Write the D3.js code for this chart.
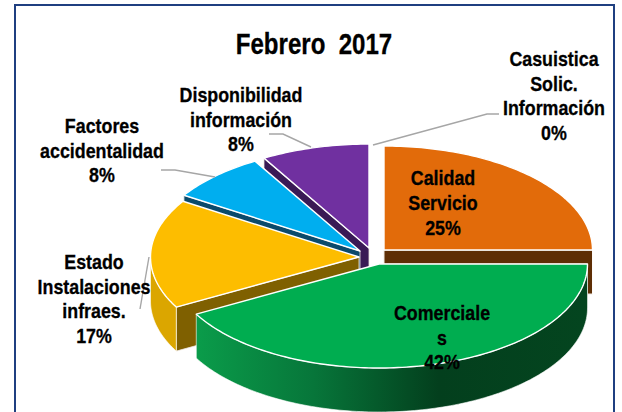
<!DOCTYPE html>
<html><head><meta charset="utf-8">
<script src="https://cdn.jsdelivr.net/npm/d3@7/dist/d3.min.js"></script>
<style>html,body{margin:0;padding:0;background:#fff;overflow:hidden}svg{display:block}</style>
</head><body><svg id="c" width="622" height="412"></svg>
<script>
// Data
const categories = ["Calidad Servicio","Comerciales","Estado Instalaciones infraes.","Factores accidentalidad","Disponibilidad información","Casuistica Solic. Información"];
const values = [25,42,17,7.6,8.4,0];
const title = "Febrero  2017";
const labelLines = [
  ["Calidad","Servicio","25%"],
  ["Comerciale","s","42%"],
  ["Estado","Instalaciones","infraes.","17%"],
  ["Factores","accidentalidad","8%"],
  ["Disponibilidad","información","8%"],
  ["Casuistica","Solic.","Información","0%"]
];
// Styles and layout
const topColors  = ["#e26b0a","#00ad50","#fdbd00","#00aeef","#7030a0","#a6a6a6"];
const faceColors = ["#5e2e05","#00ad50","#7f6000","#0b4a6b","#3a1a55","#a6a6a6"];
const wallColors = ["#5e2e05","url(#greenWall)","#dba600","#0b4a6b","#3a1a55","#a6a6a6"];
const centers = [[384,250],[379,264],[359,257],[360,251],[369,248],[369,248]];
const labelX = [443,442,94,102,241,554];
const labelY = [185,320,269,133,102,66];
const labelStep = [25,24.5,24.7,24.6,24.6,24.5];
const leaders = [
  null,null,
  [[149,257],[140,309]],
  [[161,170],[175,170],[215,177]],
  [[269,134],[283,134],[311,147]],
  [[373,145],[487,114],[499,114]]
];
const RX = 208.5, RY = 104, DEPTH = 44;
const drawOrder = [4,3,0,2,1];

const svg = d3.select("#c");
const defs = svg.append("defs");
const g = defs.append("linearGradient").attr("id","greenWall").attr("gradientUnits","userSpaceOnUse")
  .attr("x1",196).attr("x2",587).attr("y1",0).attr("y2",0);
[[0,"#0a9c4a"],[0.3,"#07763a"],[0.62,"#033f1d"],[1,"#04451f"]].forEach(s=>g.append("stop").attr("offset",s[0]).attr("stop-color",s[1]));

// frame
svg.append("rect").attr("x",15).attr("y",5).attr("width",599).attr("height",430)
  .attr("fill","#fff").attr("stroke","#1f3f80").attr("stroke-width",2);

const arcs = d3.pie().sort(null).value(d=>d)(values);
const line = d3.line();
const at = (i,a,dz=0)=>[centers[i][0]+RX*Math.sin(a), centers[i][1]-RY*Math.cos(a)+dz];
const sweep = (i,a0,a1,dz=0)=>{
  const n = Math.max(2,Math.ceil(Math.abs(a1-a0)/0.02));
  return d3.range(n+1).map(k=>at(i,a0+(a1-a0)*k/n,dz));
};

const group = svg.selectAll("g.slice").data(drawOrder).join("g").attr("class","slice");
group.each(function(i){
  const sel = d3.select(this), d = arcs[i];
  const c = centers[i];
  const faceA = (i===0) ? d.endAngle : d.startAngle;
  const p = at(i,faceA);
  sel.append("path").attr("d",line([c,p,[p[0],p[1]+DEPTH],[c[0],c[1]+DEPTH]])+"Z")
    .attr("fill",faceColors[i]).attr("stroke","#efe9e2").attr("stroke-width",i===0?1:0.8);
  const lo = Math.max(d.startAngle,Math.PI/2), hi = Math.min(d.endAngle,Math.PI*1.5);
  if(hi>lo){
    const top = sweep(i,lo,hi), bot = sweep(i,hi,lo,DEPTH);
    sel.append("path").attr("d",line(top.concat(bot))+"Z").attr("fill",wallColors[i]).attr("stroke","#fff").attr("stroke-width",0.6);
  }
  sel.append("path").attr("d",line([c].concat(sweep(i,d.startAngle,d.endAngle)))+"Z")
    .attr("fill",topColors[i]).attr("stroke","#fff").attr("stroke-width",1.4).attr("stroke-linejoin","round");
});

svg.selectAll("path.leader").data(leaders.filter(Boolean)).join("path").attr("class","leader")
  .attr("d",d=>line(d)).attr("fill","none").attr("stroke","#a6a6a6").attr("stroke-width",1.4);

const font = "'Liberation Sans',Arial,sans-serif";
svg.append("text").attr("transform","translate(314,54) scale(0.83,1)").attr("text-anchor","middle")
  .attr("font-family",font).attr("font-weight",700).attr("font-size",29).attr("fill","#000")
  .attr("stroke","#000").attr("stroke-width",0.3).style("white-space","pre").text(title);

labelLines.forEach((ls,i)=>{
  ls.forEach((t,k)=>{
    svg.append("text").attr("transform",`translate(${labelX[i]},${labelY[i]+k*labelStep[i]}) scale(0.87,1)`).attr("text-anchor","middle")
      .attr("font-family",font).attr("font-weight",700).attr("font-size",20.5).attr("fill","#000")
      .attr("stroke","#000").attr("stroke-width",0.3).text(t);
  });
});
</script></body></html>
